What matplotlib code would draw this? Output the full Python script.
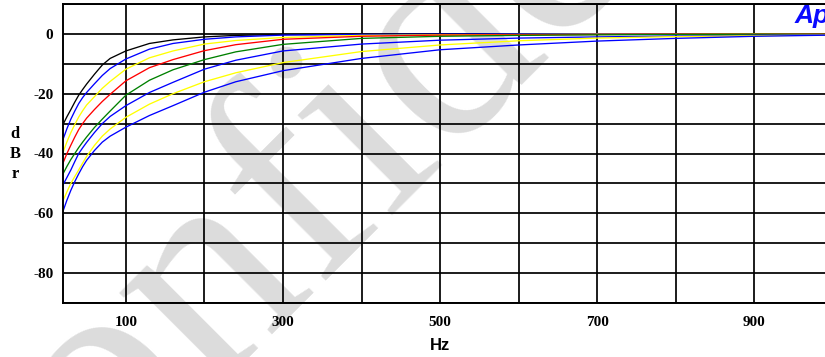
import matplotlib
matplotlib.use("Agg")
import matplotlib.pyplot as plt
from matplotlib.ticker import FixedLocator, FuncFormatter

# frequency points (Hz) shared by all curves
freq = [20, 25, 30, 35, 40, 45, 50, 60, 70, 80, 100, 130, 160, 200, 240, 300,
        400, 500, 600, 700, 800, 900, 1000]

# level in dBr, top curve first
black_db = [-30.3, -27.7, -25.3, -22.8, -20.5, -18.6, -16.8, -13.5, -10.4, -8.2,
            -5.7, -3.2, -2.0, -1.0, -0.5, -0.2, -0.1, 0.0, 0.0, 0.0, 0.0, 0.0, 0.0]
blue1_db = [-35.3, -31.7, -28.5, -25.8, -23.3, -21.3, -19.6, -16.7, -13.9, -11.6,
            -8.4, -5.1, -3.2, -1.8, -1.0, -0.4, -0.2, -0.1, 0.0, 0.0, 0.0, 0.0, 0.0]
yellow1_db = [-39.6, -36.1, -33.0, -30.3, -27.8, -25.7, -23.8, -21.0, -18.2, -15.9,
              -11.8, -8.0, -5.7, -3.4, -2.2, -1.2, -0.5, -0.3, -0.2, -0.1, -0.1, 0.0, 0.0]
red_db = [-43.2, -40.0, -37.2, -34.5, -32.0, -30.0, -28.2, -25.3, -22.6, -20.2,
          -15.7, -11.3, -8.6, -5.6, -3.6, -1.8, -0.8, -0.4, -0.3, -0.2, -0.1, -0.1, 0.0]
green_db = [-46.8, -44.3, -42.0, -40.0, -38.0, -36.2, -34.5, -31.3, -28.5, -25.8,
            -20.5, -15.5, -12.0, -8.6, -6.0, -3.5, -1.5, -0.8, -0.5, -0.3, -0.2, -0.1, -0.1]
blue2_db = [-50.5, -48.0, -45.5, -42.7, -40.0, -38.1, -36.3, -33.0, -30.0, -27.6,
            -24.0, -19.6, -16.2, -11.8, -8.8, -5.7, -3.4, -2.1, -1.4, -1.0, -0.7, -0.5, -0.3]
yellow2_db = [-55.8, -52.8, -50.0, -47.7, -45.5, -43.2, -41.0, -37.3, -34.2, -31.8,
              -27.9, -23.5, -20.0, -16.0, -13.0, -9.6, -5.9, -3.7, -2.3, -1.4, -0.9, -0.6, -0.4]
blue3_db = [-59.3, -55.6, -52.3, -49.4, -46.8, -44.4, -42.3, -39.0, -36.2, -34.2,
            -31.2, -27.3, -24.0, -19.5, -16.0, -12.3, -8.2, -5.3, -3.7, -2.4, -1.5, -0.8, -0.4]

curves = [
    (black_db, "black"),
    (blue1_db, "#0000ff"),
    (yellow1_db, "#ffff00"),
    (red_db, "#ff0000"),
    (green_db, "#008000"),
    (blue2_db, "#0000ff"),
    (yellow2_db, "#ffff00"),
    (blue3_db, "#0000ff"),
]

x_ticks = list(range(100, 1000, 100))
x_labels = [100, 300, 500, 700, 900]
y_ticks = list(range(-90, 11, 10))
y_labels = [0, -20, -40, -60, -80]

serif = "Liberation Serif"
sans = "Liberation Sans"

fig = plt.figure(figsize=(8.25, 3.57), dpi=100)
ax = fig.add_axes([63 / 825, 54 / 357, 770 / 825, 299 / 357])

# watermark behind everything
ax.text(-0.045, -0.771, "Confidential", transform=fig.transFigure,
        fontsize=215, family=serif, color="#dcdcdc", rotation=45,
        rotation_mode="anchor", ha="left", va="baseline", zorder=0.1,
        clip_on=False)

for values, color in curves:
    ax.plot(freq, values, color=color, lw=0.95, zorder=2)

ax.set_xlim(20, 1000)
ax.set_ylim(-90, 10)
ax.set_facecolor("none")
ax.set_axisbelow(True)

ax.xaxis.set_major_locator(FixedLocator(x_ticks))
ax.yaxis.set_major_locator(FixedLocator(y_ticks))
ax.xaxis.set_major_formatter(FuncFormatter(lambda v, p: f"{int(v)}" if int(v) in x_labels else ""))
ax.yaxis.set_major_formatter(FuncFormatter(lambda v, p: f"{int(v)}" if int(round(v)) in y_labels else ""))
ax.grid(True, color="black", lw=1.25)
ax.tick_params(length=0)
ax.tick_params(axis="y", pad=7)
ax.tick_params(axis="x", pad=9)
for lab in ax.get_xticklabels() + ax.get_yticklabels():
    lab.set_family(serif)
    lab.set_fontweight("bold")
    lab.set_fontsize(11)

for side in ["top", "left", "bottom"]:
    ax.spines[side].set_color("black")
    ax.spines[side].set_linewidth(1.4)
ax.spines["right"].set_visible(False)

# axis titles
fig.text(440 / 825, 1 - 346 / 357, "Hz", family=sans, fontweight="bold",
         fontsize=12, ha="center", va="center")
for i, ch in enumerate("dBr"):
    fig.text(15 / 825, 1 - (134 + 20 * i) / 357, ch, family=serif,
             fontweight="bold", fontsize=12, ha="center", va="center")

# logo at the top right, cut by the edge
fig.text(795 / 825, 1 - 16 / 357, "Ap", family=sans, fontweight="bold",
         style="italic", fontsize=19, color="#0a0aff", ha="left", va="center")

fig.savefig("out.png", dpi=100)
